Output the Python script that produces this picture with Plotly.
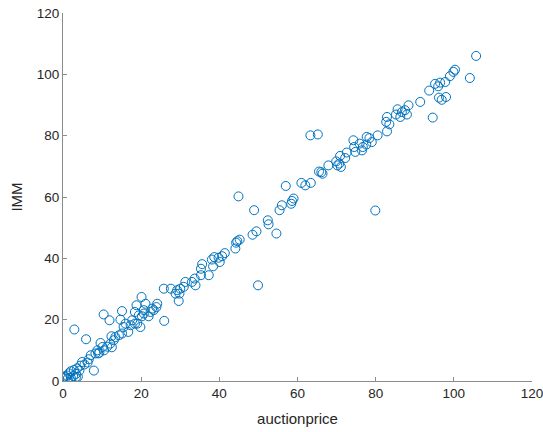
import plotly.graph_objects as go

auctionprice = [
    0.0, 0.4, 0.8, 1.2, 1.5, 2.0, 2.0, 2.6, 2.8, 3.3, 3.6, 3.8, 4.4, 4.9, 4.2, 5.5, 6.3, 6.6, 7.1, 7.9,
    8.3, 8.8, 9.3, 9.6, 10.1, 10.5, 11.3, 12.1, 12.5, 13.0, 13.4, 14.3, 15.1, 16.7, 15.5, 16.0, 17.3, 17.7,
    18.4, 19.0, 19.8, 18.4, 18.8, 19.4, 20.2, 20.7, 20.7, 21.1, 21.9, 22.4, 22.8, 23.2, 23.9, 24.1, 20.1,
    25.9, 25.8, 27.6, 28.8, 29.2, 29.6, 29.8, 30.0, 30.9, 31.3, 33.0, 33.7, 33.9, 35.3, 35.3, 35.6, 37.3,
    38.1, 38.4, 38.7, 39.8, 40.1, 40.7, 41.4, 44.1, 44.3, 44.6, 45.2, 48.5, 49.5, 54.6, 52.4, 52.6, 49.9,
    48.9, 44.9, 55.4, 56.0, 58.4, 58.6, 59.0, 57.0, 61.0, 62.0, 63.4, 63.3, 65.2, 65.5, 66.4, 66.1, 67.9,
    69.9, 70.2, 70.7, 71.1, 70.9, 72.2, 72.6, 74.3, 74.5, 74.8, 75.9, 76.5, 76.7, 77.6, 77.7, 78.4, 79.0,
    79.9, 80.5, 82.9, 82.7, 83.5, 82.9, 85.2, 85.6, 86.3, 86.7, 87.5, 88.0, 88.4, 91.4, 93.7, 94.6, 95.2,
    96.0, 96.5, 97.8, 96.2, 96.9, 98.0, 99.0, 99.9, 100.3, 104.1, 105.7,
    10.4, 11.9, 15.1, 14.7, 2.9, 5.9, 12.4, 9.0, 1.0, 3.3,
]
imm = [
    1.0, 1.5, 1.2, 0.7, 2.5, 3.2, 1.0, 1.6, 3.6, 2.3, 4.1, 1.4, 5.0, 6.2, 3.4, 5.4, 6.0, 7.1, 8.4, 3.4,
    9.0, 10.0, 9.2, 12.4, 11.1, 10.0, 11.2, 12.2, 11.0, 13.3, 14.3, 14.9, 15.5, 16.0, 17.6, 18.7, 18.2, 19.8,
    18.7, 18.7, 17.6, 22.5, 24.7, 21.4, 21.1, 22.0, 23.1, 25.2, 21.1, 22.5, 23.6, 23.1, 24.1, 25.2, 27.4,
    19.6, 30.1, 30.1, 28.5, 29.6, 26.1, 28.5, 30.1, 30.7, 32.3, 32.3, 33.4, 31.2, 34.5, 36.6, 38.1, 34.5,
    39.6, 37.4, 40.4, 40.2, 38.8, 40.7, 41.7, 43.2, 45.1, 45.6, 46.1, 47.7, 48.8, 48.1, 52.4, 51.1, 31.2,
    55.7, 60.2, 55.7, 57.3, 57.8, 58.7, 59.5, 63.6, 64.6, 63.8, 64.6, 80.1, 80.4, 68.3, 67.6, 68.1, 70.3,
    71.6, 70.3, 70.9, 69.8, 73.4, 72.7, 74.5, 78.5, 76.3, 74.7, 77.4, 75.2, 76.3, 77.1, 79.6, 79.2, 77.9,
    55.6, 80.1, 81.4, 84.5, 83.7, 86.1, 86.9, 88.6, 86.1, 87.7, 88.3, 86.9, 89.9, 91.0, 94.7, 85.9, 96.9,
    96.1, 97.3, 97.5, 92.4, 91.7, 92.6, 99.4, 100.8, 101.5, 98.8, 106.0,
    21.7, 19.8, 22.8, 20.0, 16.8, 13.6, 14.6, 9.0, 1.8, 1.2,
]

x_ticks = [0, 20, 40, 60, 80, 100, 120]
y_ticks = [0, 20, 40, 60, 80, 100, 120]

FONT = "Liberation Sans, Arial"

fig = go.Figure(go.Scatter(
    x=auctionprice, y=imm, mode="markers",
    marker=dict(symbol="circle-open", size=9, color="#0072BD", line=dict(width=1, color="#0072BD")),
))

axis_common = dict(
    showgrid=False, zeroline=False, showline=True, linecolor="#8c8c8c", linewidth=1,
    ticks="inside", ticklen=4, tickcolor="#8c8c8c", tickwidth=1,
    tickfont=dict(family=FONT, size=13.5, color="#262626"),
    mirror=False, automargin=False, ticklabeloverflow="allow",
)

fig.update_layout(
    width=543, height=432,
    margin=dict(l=63, r=11, t=13, b=51),
    paper_bgcolor="white", plot_bgcolor="white",
    showlegend=False,
    xaxis=dict(range=[0, 120], tickvals=x_ticks, ticktext=[str(v) for v in x_ticks],
               title=dict(text="auctionprice", font=dict(family=FONT, size=15, color="#262626"), standoff=13),
               **axis_common),
    yaxis=dict(range=[0, 120], tickvals=y_ticks, ticktext=[str(v) for v in y_ticks],
               title=dict(text="IMM", font=dict(family=FONT, size=15, color="#262626"), standoff=10),
               **axis_common),
)

fig.write_html("out.html")
